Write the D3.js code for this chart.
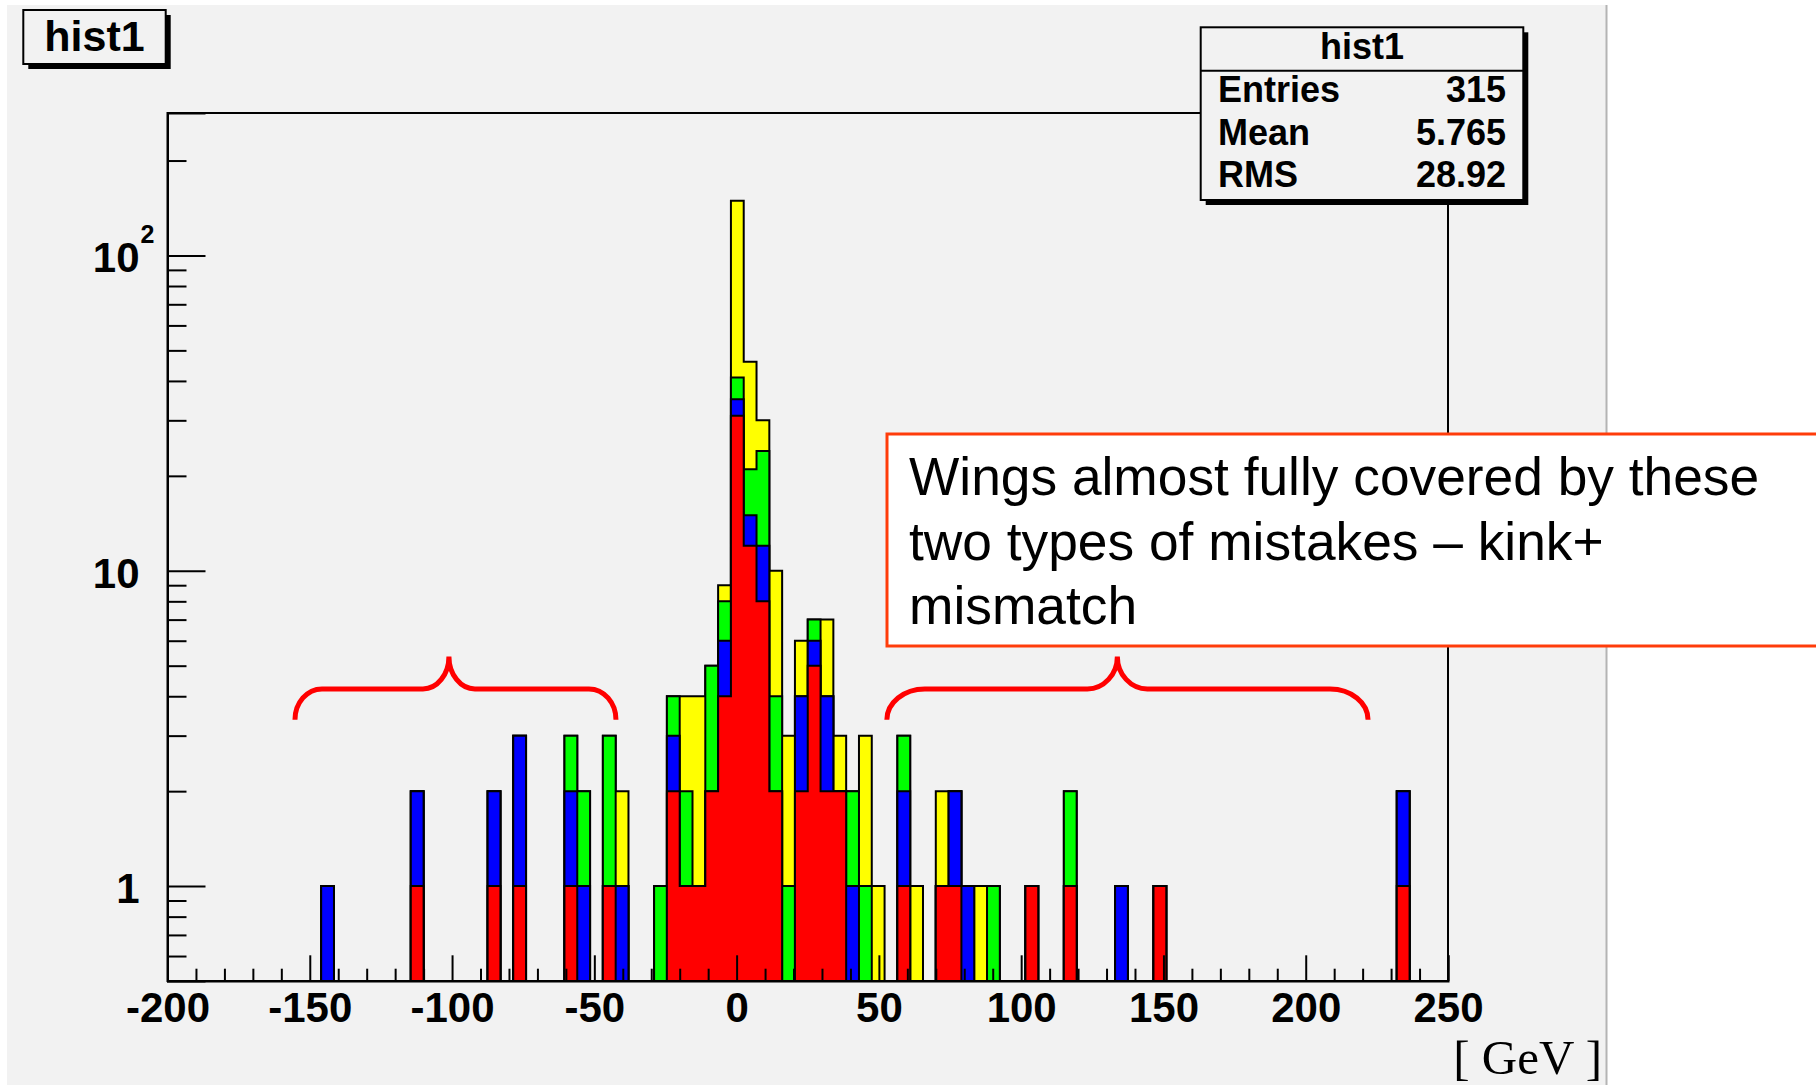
<!DOCTYPE html>
<html>
<head>
<meta charset="utf-8">
<script src="https://cdn.jsdelivr.net/npm/d3@7"></script>
<style>
  html, body { margin: 0; padding: 0; background: #ffffff; }
  svg { display: block; }
</style>
</head>
<body>
<svg id="chart" width="1816" height="1085"></svg>
<script>
// hist1 binning: 100 bins of 4.5 GeV between -200 and 250
const nBins = 100;
const xLow = -200;
const xHigh = 250;

// centres of the populated bins [GeV]
const binCentres = [-143.75, -112.25, -85.25, -76.25, -58.25, -53.75, -44.75, -40.25,
  -26.75, -22.25, -17.75, -13.25, -8.75, -4.25, 0.25, 4.75, 9.25, 13.75, 18.25,
  22.75, 27.25, 31.75, 36.25, 40.75, 45.25, 49.75, 58.75, 63.25, 72.25, 76.75,
  81.25, 85.75, 90.25, 103.75, 117.25, 135.25, 148.75, 234.25];

// entries of each category in those bins (stacked red, blue, green, yellow)
const redCounts    = [0, 1, 1, 1, 1, 0, 1, 0, 0, 2, 1, 1, 2, 4, 31, 12, 8, 2, 0, 2, 5, 2, 2, 0, 0, 0, 1, 0, 1, 1, 0, 0, 0, 1, 1, 0, 1, 1];
const blueCounts   = [1, 1, 1, 2, 1, 1, 0, 1, 0, 1, 0, 0, 0, 2, 4, 3, 4, 0, 0, 2, 1, 2, 0, 1, 0, 0, 1, 0, 0, 1, 1, 0, 0, 0, 0, 1, 0, 1];
const greenCounts  = [0, 0, 0, 0, 1, 1, 2, 0, 1, 1, 1, 0, 3, 2, 6, 6, 12, 2, 1, 0, 1, 0, 0, 1, 1, 0, 1, 0, 0, 0, 0, 0, 1, 0, 1, 0, 0, 0];
const yellowCounts = [0, 0, 0, 0, 0, 0, 0, 1, 0, 0, 2, 3, 0, 1, 108, 25, 6, 6, 2, 2, 0, 3, 1, 0, 2, 1, 0, 1, 1, 0, 0, 1, 0, 0, 0, 0, 0, 0];

// axis ticks and labels
const xMajorTicks = [-200, -150, -100, -50, 0, 50, 100, 150, 200, 250];
const xMinorTicks = d3.range(-190, 250, 10).filter(v => v % 50 !== 0);
const yMajorTicks = [1, 10, 100];
const yMinorTicks = [0.6, 0.7, 0.8, 0.9, 2, 3, 4, 5, 6, 7, 8, 9, 20, 30, 40, 50, 60, 70, 80, 90, 200];

// statistics box
const statsTitle = "hist1";
const statsLabels = ["Entries", "Mean", "RMS"];
const statsValues = ["315", "5.765", "28.92"];

// annotation
const noteLines = ["Wings almost fully covered by these", "two types of mistakes \u2013 kink+", "mismatch"];
const braceSpans = [
  { from: -155.2, to: -42.4, tip: -101.1, end: 3.37, bar: 4.22, top: 5.35, rEnd: 27, rTip: 26 },
  { from: 52.8, to: 221.9, tip: 133.8, end: 3.37, bar: 4.22, top: 5.35, rEnd: 38, rTip: 30 }
];

const SANS = "'Liberation Sans', Arial, Helvetica, sans-serif";
const SERIF = "'Liberation Serif', 'Times New Roman', serif";
const PAD_BG = "#f2f2f2";

const svg = d3.select("#chart");

// canvas / pad background
svg.append("rect").attr("x", 7).attr("y", 5).attr("width", 1599).attr("height", 1080).attr("fill", PAD_BG);
svg.append("line").attr("x1", 1606.5).attr("x2", 1606.5).attr("y1", 5).attr("y2", 1085)
  .attr("stroke", "#b4b4b4").attr("stroke-width", 2);

const x = d3.scaleLinear().domain([xLow, xHigh]).range([167.5, 1448]);
const yMin = 0.5, yMax = 283;
const y = d3.scaleLog().domain([yMin, yMax]).range([981, 113]);

// dense bin contents for every category
const binWidth = (xHigh - xLow) / nBins;
function dense(counts) {
  const arr = new Array(nBins).fill(0);
  binCentres.forEach((c, i) => {
    const k = Math.floor((c - xLow) / binWidth);
    arr[k] += counts[i];
  });
  return arr;
}
const red = dense(redCounts), blue = dense(blueCounts), green = dense(greenCounts), yellow = dense(yellowCounts);
const layerRed = red;
const layerBlue = red.map((v, i) => v + blue[i]);
const layerGreen = layerBlue.map((v, i) => v + green[i]);
const layerYellow = layerGreen.map((v, i) => v + yellow[i]);

const area = d3.area()
  .x(d => x(d.edge))
  .y0(y(yMin))
  .y1(d => y(Math.max(d.value, yMin)))
  .curve(d3.curveStepAfter);

function stepPoints(values) {
  const pts = values.map((v, i) => ({ edge: xLow + i * binWidth, value: v }));
  pts.push({ edge: xHigh, value: values[values.length - 1] });
  return pts;
}

const layers = [
  { values: layerYellow, color: "#ffff00" },
  { values: layerGreen, color: "#00ff00" },
  { values: layerBlue, color: "#0000ff" },
  { values: layerRed, color: "#ff0000" }
];
const histG = svg.append("g");
histG.selectAll("path").data(layers).join("path")
  .attr("d", d => area(stepPoints(d.values)))
  .attr("fill", d => d.color)
  .attr("stroke", "#000")
  .attr("stroke-width", 2)
  .attr("stroke-linejoin", "miter");

// frame
svg.append("rect").attr("x", 167.5).attr("y", 113).attr("width", 1448 - 167.5).attr("height", 981 - 113)
  .attr("fill", "none").attr("stroke", "#000").attr("stroke-width", 2);

// x axis
const yAxisPos = y(yMin);
const gxMinor = svg.append("g").attr("transform", `translate(0,${yAxisPos})`)
  .call(d3.axisBottom(x).tickValues(xMinorTicks).tickSize(-12.3).tickFormat(""));
gxMinor.select(".domain").remove();
const gx = svg.append("g").attr("transform", `translate(0,${yAxisPos})`)
  .call(d3.axisBottom(x).tickValues(xMajorTicks).tickSize(-25.7).tickFormat(d => String(d)));
gx.select(".domain").attr("stroke", "#000").attr("stroke-width", 2);
[gx, gxMinor].forEach(g => g.selectAll(".tick line").attr("stroke", "#000").attr("stroke-width", 2));
gx.selectAll(".tick text")
  .attr("y", 41).attr("dy", null)
  .attr("font-family", SANS).attr("font-size", 42).attr("font-weight", "bold").attr("fill", "#000");

// y axis
const gyMinor = svg.append("g").attr("transform", `translate(${x(xLow)},0)`)
  .call(d3.axisLeft(y).tickValues(yMinorTicks).tickSize(-19).tickFormat(""));
gyMinor.select(".domain").remove();
const gy = svg.append("g").attr("transform", `translate(${x(xLow)},0)`)
  .call(d3.axisLeft(y).tickValues(yMajorTicks).tickSize(-38)
    .tickFormat(d => d === 100 ? "10" : String(d)));
gy.select(".domain").attr("stroke", "#000").attr("stroke-width", 2);
[gy, gyMinor].forEach(g => g.selectAll(".tick line").attr("stroke", "#000").attr("stroke-width", 2));
gy.selectAll(".tick text")
  .attr("x", -28).attr("y", 16.5).attr("dy", null)
  .attr("font-family", SANS).attr("font-size", 42).attr("font-weight", "bold").attr("fill", "#000");
gy.selectAll(".tick").filter(d => d === 100).append("text")
  .attr("x", -27).attr("y", -13)
  .attr("text-anchor", "start")
  .attr("font-family", SANS).attr("font-size", 25).attr("font-weight", "bold").attr("fill", "#000")
  .text("2");

// x axis title
svg.append("text").attr("x", 1602).attr("y", 1074).attr("text-anchor", "end")
  .attr("font-family", SERIF).attr("font-size", 49).attr("fill", "#000")
  .text("[ GeV ]");

// boxes with drop shadow
function shadowBox(x0, y0, w, h) {
  svg.append("rect").attr("x", x0 + 5).attr("y", y0 + 5).attr("width", w).attr("height", h).attr("fill", "#000");
  svg.append("rect").attr("x", x0).attr("y", y0).attr("width", w).attr("height", h)
    .attr("fill", PAD_BG).attr("stroke", "#000").attr("stroke-width", 2);
}

// statistics box
shadowBox(1200.7, 27.3, 322.6, 172.7);
svg.append("line").attr("x1", 1200.7).attr("x2", 1523.3).attr("y1", 70.7).attr("y2", 70.7)
  .attr("stroke", "#000").attr("stroke-width", 2);
svg.append("text").attr("x", 1362).attr("y", 59).attr("text-anchor", "middle")
  .attr("font-family", SANS).attr("font-size", 36).attr("font-weight", "bold").text(statsTitle);
const rowY = [102, 144.5, 187];
statsLabels.forEach((lab, i) => {
  svg.append("text").attr("x", 1218).attr("y", rowY[i])
    .attr("font-family", SANS).attr("font-size", 36).attr("font-weight", "bold").text(lab);
  svg.append("text").attr("x", 1506).attr("y", rowY[i]).attr("text-anchor", "end")
    .attr("font-family", SANS).attr("font-size", 36).attr("font-weight", "bold").text(statsValues[i]);
});

// title box
shadowBox(23.3, 10, 142.4, 54);
svg.append("text").attr("x", 94.5).attr("y", 51).attr("text-anchor", "middle")
  .attr("font-family", SANS).attr("font-size", 43).attr("font-weight", "bold").text("hist1");

// curly braces marking the wings
function bracePath(b) {
  const xa = x(b.from), xb = x(b.to), xt = x(b.tip);
  const yE = y(b.end), yB = y(b.bar), yT = y(b.top);
  const ve = yE - yB, vt = yB - yT;
  return `M${xa},${yE}` +
    `A${b.rEnd},${ve} 0 0 1 ${xa + b.rEnd},${yB}` +
    `L${xt - b.rTip},${yB}` +
    `A${b.rTip},${vt} 0 0 0 ${xt},${yT}` +
    `A${b.rTip},${vt} 0 0 0 ${xt + b.rTip},${yB}` +
    `L${xb - b.rEnd},${yB}` +
    `A${b.rEnd},${ve} 0 0 1 ${xb},${yE}`;
}
svg.selectAll("path.brace").data(braceSpans).join("path")
  .attr("class", "brace")
  .attr("d", bracePath)
  .attr("fill", "none").attr("stroke", "#ff0000").attr("stroke-width", 5);

// annotation box
svg.append("rect").attr("x", 887).attr("y", 434).attr("width", 960).attr("height", 212)
  .attr("fill", "#ffffff").attr("stroke", "#ff3c0a").attr("stroke-width", 3);
const noteBase = [495, 559.5, 624];
noteLines.forEach((t, i) => {
  svg.append("text").attr("x", 909).attr("y", noteBase[i])
    .attr("font-family", SANS).attr("font-size", 53.3).attr("fill", "#000").text(t);
});
</script>
</body>
</html>
